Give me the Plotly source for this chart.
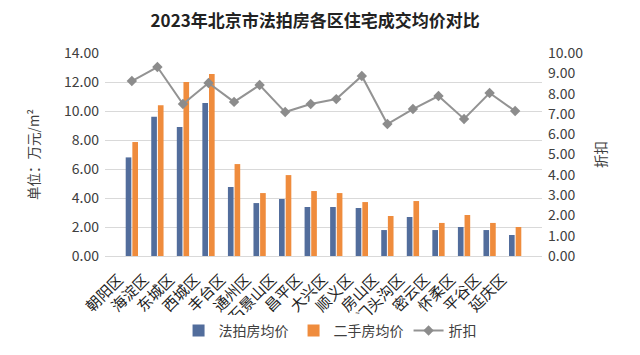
import plotly.graph_objects as go

districts = ["朝阳区", "海淀区", "东城区", "西城区", "丰台区", "通州区", "石景山区", "昌平区",
             "大兴区", "顺义区", "房山区", "门头沟区", "密云区", "怀柔区", "平谷区", "延庆区"]
auction_price = [6.80, 9.60, 8.90, 10.55, 4.76, 3.65, 3.93, 3.38,
                 3.38, 3.31, 1.79, 2.69, 1.79, 2.00, 1.79, 1.45]
second_hand_price = [7.86, 10.40, 12.00, 12.55, 6.34, 4.34, 5.58, 4.48,
                     4.34, 3.72, 2.76, 3.79, 2.28, 2.83, 2.28, 2.00]
discount = [8.62, 9.31, 7.49, 8.52, 7.59, 8.42, 7.09, 7.49,
            7.73, 8.87, 6.50, 7.24, 7.88, 6.75, 8.03, 7.14]

left_ticks = [0, 2, 4, 6, 8, 10, 12, 14]
right_ticks = [0, 1, 2, 3, 4, 5, 6, 7, 8, 9, 10]

FONT = "Noto Sans CJK SC"
TXT = "#404040"

fig = go.Figure()
fig.add_trace(go.Bar(x=districts, y=auction_price, name="法拍房均价",
                     marker=dict(color="#526d9c", line=dict(width=0))))
fig.add_trace(go.Bar(x=districts, y=second_hand_price, name="二手房均价",
                     marker=dict(color="#ef8c3d", line=dict(width=0))))
fig.add_trace(go.Scatter(x=districts, y=discount, name="折扣", yaxis="y2",
                         mode="lines+markers",
                         line=dict(color="#939393", width=2),
                         marker=dict(symbol="diamond", size=8, color="#8c8c8c")))

fig.update_layout(
    width=632, height=347,
    margin=dict(l=97, r=98, t=45, b=99, autoexpand=False),
    paper_bgcolor="white", plot_bgcolor="white",
    font=dict(family=FONT, color=TXT, size=13),
    title=dict(text="<b>2023年北京市法拍房各区住宅成交均价对比</b>",
               x=0.486, xanchor="center", y=0.962, yanchor="middle",
               font=dict(size=17, color="#222222", family=FONT)),
    barmode="group", bargap=0.48, bargroupgap=0.15,
    showlegend=True,
    legend=dict(orientation="h", x=0.515, xanchor="center", y=-0.369, yanchor="middle",
                font=dict(size=14, color=TXT), itemwidth=30, tracegroupgap=0),
    xaxis=dict(tickangle=-45, tickfont=dict(size=15, color="#222222"), automargin=False,
               ticklabelshift=-13, ticklabelstandoff=8,
               showgrid=False, showline=True, linecolor="#d9d9d9", ticks=""),
    yaxis=dict(range=[0, 14], tickvals=left_ticks, tickformat=".2f", automargin=False,
               showgrid=True, gridcolor="#d9d9d9", gridwidth=1, zeroline=False,
               tickfont=dict(size=14, color=TXT), ticklabelstandoff=5,
               title=dict(text="单位：万元/m²", font=dict(size=13.5, color=TXT), standoff=21)),
    yaxis2=dict(range=[0, 10], tickvals=right_ticks, tickformat=".2f", automargin=False,
                overlaying="y", side="right", showgrid=False, zeroline=False,
                tickfont=dict(size=14, color=TXT), ticklabelstandoff=5,
                title=dict(text="折扣", font=dict(size=13.5, color=TXT), standoff=14)),
)

fig.write_html("out.html")
